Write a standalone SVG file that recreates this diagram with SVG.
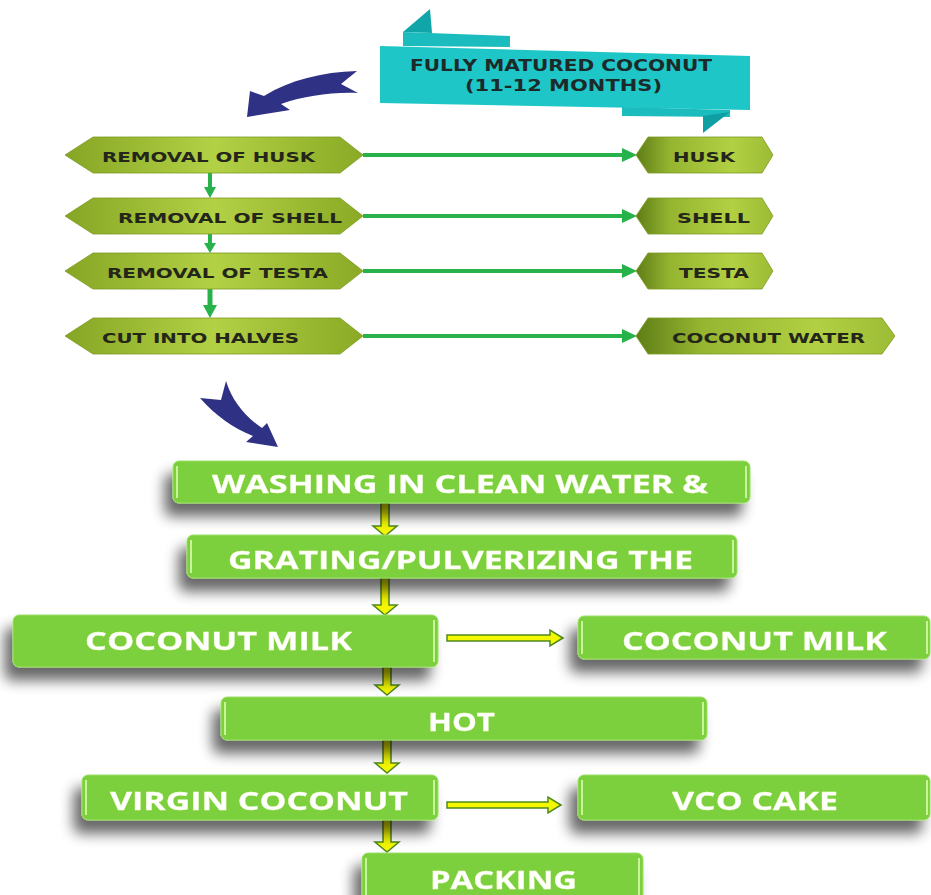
<svg xmlns="http://www.w3.org/2000/svg" width="931" height="895" viewBox="0 0 931 895">
<defs>
<linearGradient id="gL" x1="0" y1="0" x2="1" y2="0">
<stop offset="0" stop-color="#86a524"/><stop offset="0.5" stop-color="#b3d145"/><stop offset="1" stop-color="#8aaa26"/>
</linearGradient>
<linearGradient id="gR" x1="0" y1="0" x2="1" y2="0">
<stop offset="0" stop-color="#5e7d16"/><stop offset="0.25" stop-color="#95b531"/><stop offset="0.7" stop-color="#b2d042"/><stop offset="1" stop-color="#9cbc36"/>
</linearGradient>
<filter id="sh" x="-20%" y="-40%" width="140%" height="220%">
<feGaussianBlur in="SourceAlpha" stdDeviation="7"/>
<feOffset dx="-8" dy="13" result="b"/>
<feComponentTransfer><feFuncA type="linear" slope="0.6"/></feComponentTransfer>
<feMerge><feMergeNode/><feMergeNode in="SourceGraphic"/></feMerge>
</filter>
<style>
.hx{stroke:#7d9a22;stroke-width:0.8}
.ht{font-family:"DejaVu Sans","Liberation Sans",sans-serif;font-weight:bold;font-size:14px;fill:#24261a}
.rt{font-family:"DejaVu Sans","Liberation Sans",sans-serif;font-weight:bold;font-size:15px;fill:#1d2a2a}
.bx{fill:#7ccf3c;stroke:#9ee06a;stroke-width:1}
.hl{stroke:#c8f59a;stroke-width:2;fill:none}
.bt{font-family:"Open Sans","Liberation Sans",sans-serif;font-weight:bold;font-size:25px;fill:#ffffff;stroke:#f4ffd0;stroke-width:0.3}
.ga{stroke:#28b24c;stroke-width:4;fill:none}
.gh{fill:#28b24c}
.ya{fill:#f4f700;stroke:#4e8a1c;stroke-width:1.5;stroke-linejoin:miter}
.bl{fill:#2f3185}
</style>
</defs>
<rect width="931" height="895" fill="#ffffff"/>

<g id="ribbon">
<polygon points="403,32 430,9 432,33" fill="#10a5a8"/>
<polygon points="403,32 510,36 510,47 403,46" fill="#1bbcbe"/>
<polygon points="380,46 750,56 750,110 380,103" fill="#1fc6c8"/>
<polygon points="622,107 730,110 730,117 622,116" fill="#1bbcbe"/>
<polygon points="703,116 730,112 703,133" fill="#0f9ea2"/>
<text class="rt" x="410" y="71" textLength="302" lengthAdjust="spacingAndGlyphs">FULLY MATURED COCONUT</text>
<text class="rt" x="465" y="91" textLength="197" lengthAdjust="spacingAndGlyphs">(11-12 MONTHS)</text>
</g>

<g id="blue-arrows">
<path class="bl" d="M357,71 C322,72 290,80 264,96 L250,91 L247,117 L290,110 L281,104 C305,96 330,92 358,93 L341,84 Z"/>
<path class="bl" d="M200,398 L221,400 L226,381 C232,400 244,416 262,428 L267,423 L278,447 L246,442 L253,436 C233,428 216,416 200,398 Z"/>
</g>

<g id="connectors">
<line class="ga" x1="363" y1="155" x2="624" y2="155"/><polygon class="gh" points="622,148 637,155 622,162"/>
<line class="ga" x1="363" y1="216" x2="624" y2="216"/><polygon class="gh" points="622,209 637,216 622,223"/>
<line class="ga" x1="363" y1="271" x2="624" y2="271"/><polygon class="gh" points="622,264 637,271 622,278"/>
<line class="ga" x1="363" y1="336" x2="624" y2="336"/><polygon class="gh" points="622,329 637,336 622,343"/>
<line class="ga" x1="210" y1="173" x2="210" y2="189"/><polygon class="gh" points="204,187 216,187 210,198"/>
<line class="ga" x1="210" y1="234" x2="210" y2="245"/><polygon class="gh" points="204,243 216,243 210,253"/>
<line class="ga" x1="210" y1="289" x2="210" y2="307" style="stroke-width:5"/><polygon class="gh" points="203,305 217,305 210,318"/>

<path class="ya" d="M381,503 H389 V526 H397 L385,536 L373,526 H381 Z"/>
<path class="ya" d="M381,578 H389 V605 H397 L385,615 L373,605 H381 Z"/>
<path class="ya" d="M383,667 H391 V685 H399 L387,695 L375,685 H383 Z"/>
<path class="ya" d="M383,740 H391 V763 H399 L387,773 L375,763 H383 Z"/>
<path class="ya" d="M383,820 H391 V842 H399 L387,852 L375,842 H383 Z"/>
<path class="ya" d="M447,635 H550 V630 L563,638 L550,646 V641 H447 Z"/>
<path class="ya" d="M447,802 H548 V797 L561,805 L548,813 V808 H447 Z"/>
</g>

<g id="n-husk-removal"><path class="hx" fill="url(#gL)" d="M65,155 L93,137 H340 L363,155 L340,173 H93 Z"/><text class="ht" x="102" y="162" textLength="213" lengthAdjust="spacingAndGlyphs">REMOVAL OF HUSK</text></g>
<g id="n-shell-removal"><path class="hx" fill="url(#gL)" d="M65,216 L93,198 H340 L363,216 L340,234 H93 Z"/><text class="ht" x="118" y="223" textLength="224" lengthAdjust="spacingAndGlyphs">REMOVAL OF SHELL</text></g>
<g id="n-testa-removal"><path class="hx" fill="url(#gL)" d="M65,271 L93,253 H340 L363,271 L340,289 H93 Z"/><text class="ht" x="107" y="278" textLength="221" lengthAdjust="spacingAndGlyphs">REMOVAL OF TESTA</text></g>
<g id="n-cut"><path class="hx" fill="url(#gL)" d="M65,336 L93,318 H340 L363,336 L340,354 H93 Z"/><text class="ht" x="102" y="343" textLength="197" lengthAdjust="spacingAndGlyphs">CUT INTO HALVES</text></g>

<g id="n-husk"><path class="hx" fill="url(#gR)" d="M636,155 L648,137 H762 L773,155 L762,173 H648 Z"/><text class="ht" x="673" y="162" textLength="62" lengthAdjust="spacingAndGlyphs">HUSK</text></g>
<g id="n-shell"><path class="hx" fill="url(#gR)" d="M636,216 L648,198 H762 L773,216 L762,234 H648 Z"/><text class="ht" x="677" y="223" textLength="73" lengthAdjust="spacingAndGlyphs">SHELL</text></g>
<g id="n-testa"><path class="hx" fill="url(#gR)" d="M636,271 L648,253 H762 L773,271 L762,289 H648 Z"/><text class="ht" x="679" y="278" textLength="70" lengthAdjust="spacingAndGlyphs">TESTA</text></g>
<g id="n-water"><path class="hx" fill="url(#gR)" d="M636,336 L648,318 H882 L895,336 L882,354 H648 Z"/><text class="ht" x="672" y="343" textLength="193" lengthAdjust="spacingAndGlyphs">COCONUT WATER</text></g>

<g id="n-washing" filter="url(#sh)"><rect class="bx" x="173" y="461" width="577" height="42" rx="6"/><line class="hl" x1="177" y1="466" x2="177" y2="498"/><line class="hl" x1="746" y1="466" x2="746" y2="498"/><text class="bt" x="212" y="493" textLength="496" lengthAdjust="spacingAndGlyphs">WASHING IN CLEAN WATER &amp;</text></g>
<g id="n-grating" filter="url(#sh)"><rect class="bx" x="187" y="535" width="550" height="43" rx="6"/><line class="hl" x1="191" y1="540" x2="191" y2="573"/><line class="hl" x1="733" y1="540" x2="733" y2="573"/><text class="bt" x="228" y="569" textLength="465" lengthAdjust="spacingAndGlyphs">GRATING/PULVERIZING THE</text></g>
<g id="n-milk" filter="url(#sh)"><rect class="bx" x="13" y="615" width="425" height="52" rx="6"/><line class="hl" x1="434" y1="620" x2="434" y2="662"/><text class="bt" x="85" y="650" textLength="267" lengthAdjust="spacingAndGlyphs">COCONUT MILK</text></g>
<g id="n-milk-out" filter="url(#sh)"><rect class="bx" x="578" y="616" width="352" height="43" rx="6"/><line class="hl" x1="582" y1="621" x2="582" y2="654"/><line class="hl" x1="927" y1="621" x2="927" y2="654"/><text class="bt" x="622" y="650" textLength="265" lengthAdjust="spacingAndGlyphs">COCONUT MILK</text></g>
<g id="n-hot" filter="url(#sh)"><rect class="bx" x="221" y="697" width="486" height="43" rx="6"/><line class="hl" x1="225" y1="702" x2="225" y2="735"/><line class="hl" x1="703" y1="702" x2="703" y2="735"/><text class="bt" x="428" y="731" textLength="67" lengthAdjust="spacingAndGlyphs">HOT</text></g>
<g id="n-vco" filter="url(#sh)"><rect class="bx" x="82" y="775" width="356" height="45" rx="6"/><line class="hl" x1="86" y1="780" x2="86" y2="815"/><line class="hl" x1="434" y1="780" x2="434" y2="815"/><text class="bt" x="110" y="810" textLength="298" lengthAdjust="spacingAndGlyphs">VIRGIN COCONUT</text></g>
<g id="n-cake" filter="url(#sh)"><rect class="bx" x="578" y="775" width="352" height="45" rx="6"/><line class="hl" x1="582" y1="780" x2="582" y2="815"/><line class="hl" x1="927" y1="780" x2="927" y2="815"/><text class="bt" x="672" y="810" textLength="166" lengthAdjust="spacingAndGlyphs">VCO CAKE</text></g>
<g id="n-packing" filter="url(#sh)"><rect class="bx" x="362" y="853" width="281" height="50" rx="6"/><line class="hl" x1="366" y1="858" x2="366" y2="895"/><line class="hl" x1="639" y1="858" x2="639" y2="895"/><text class="bt" x="430" y="889" textLength="147" lengthAdjust="spacingAndGlyphs">PACKING</text></g>
</svg>
